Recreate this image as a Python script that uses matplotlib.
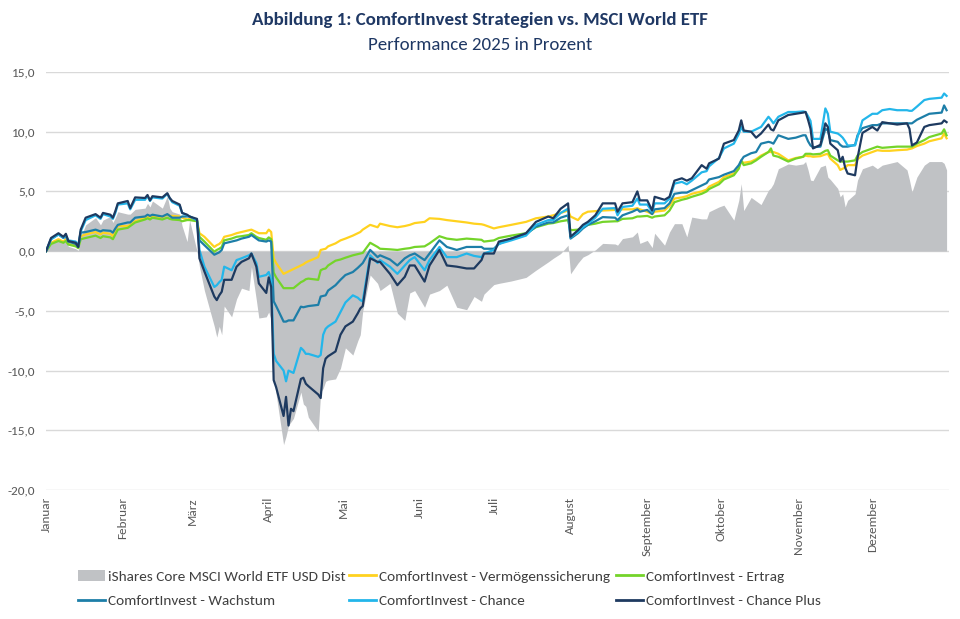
import matplotlib
matplotlib.use("Agg")
import matplotlib.pyplot as plt
from matplotlib import font_manager as fm
from matplotlib.patches import Patch
from matplotlib.lines import Line2D
import pandas as pd

# --- Daten (Wertentwicklung 2025 in %), eine Zeile pro Monat ---
dates = [
    "01-01", "01-03", "01-06", "01-08", "01-09", "01-10", "01-13", "01-14", "01-15", "01-17",
    "01-21", "01-23", "01-24", "01-27", "01-28", "01-29", "01-30",
    "02-03", "02-04", "02-06", "02-10", "02-11", "02-12", "02-13", "02-17", "02-19", "02-20",
    "02-21", "02-24", "02-25", "02-27", "02-28",
    "03-03", "03-04", "03-06", "03-10", "03-11", "03-12", "03-13", "03-14", "03-17", "03-19",
    "03-21", "03-24", "03-25", "03-27", "03-28", "03-31",
    "04-01", "04-02", "04-03", "04-04", "04-07", "04-08", "04-09", "04-10", "04-11", "04-14",
    "04-15", "04-16", "04-17", "04-21", "04-22", "04-23", "04-24", "04-25", "04-28", "04-30",
    "05-02", "05-05", "05-07", "05-08", "05-09", "05-12", "05-15", "05-16", "05-20", "05-23",
    "05-26", "05-28", "05-30",
    "06-03", "06-05", "06-09", "06-12", "06-16", "06-20", "06-23", "06-26", "06-27",
    "07-01", "07-03", "07-08", "07-14", "07-18", "07-23", "07-25", "07-28", "07-31",
    "08-01", "08-04", "08-06", "08-08", "08-11", "08-14", "08-19", "08-20", "08-22", "08-26",
    "08-28", "08-29",
    "09-01", "09-03", "09-04", "09-08", "09-10", "09-12", "09-15", "09-17", "09-19", "09-23",
    "09-25", "09-26", "09-30",
    "10-02", "10-06", "10-08", "10-09", "10-10", "10-13", "10-15", "10-17", "10-20", "10-21",
    "10-22", "10-24", "10-28", "10-31",
    "11-03", "11-04", "11-05", "11-06", "11-07", "11-10", "11-12", "11-13", "11-14", "11-17",
    "11-18", "11-19", "11-20", "11-21", "11-24", "11-25", "11-27",
    "12-01", "12-03", "12-05", "12-08", "12-11", "12-15", "12-16", "12-17", "12-19", "12-22",
    "12-24", "12-29", "12-30", "12-31",
]

etf = [
    0.0, 0.7, 1.0, 0.7, 0.8, 0.4, 0.2, 0.05, 1.2, 2.2, 2.8, 2.2, 2.6, 2.9, 2.4, 2.8, 3.3,
    3.1, 3.1, 3.5, 3.6, 4.0, 3.7, 4.2, 3.6, 4.6, 3.6, 3.3, 3.1, 2.1, 0.8, 2.6,
    0.0, -1.3, -3.3, -6.3, -7.2, -6.3, -7.0, -4.6, -5.5, -4.0, -3.1, -3.3, -1.3, -4.1, -5.6, -5.5,
    -5.1, -5.8, -10.5, -12.0, -16.2, -15.5, -14.6, -14.3, -14.0, -11.8, -12.8, -13.0, -13.9, -15.1,
    -11.8, -11.5, -10.9, -10.8, -10.7, -9.8,
    -8.1, -8.7, -7.5, -7.0, -5.0, -2.0, -2.7, -3.3, -2.7, -5.2, -5.8, -3.5, -3.3,
    -4.7, -3.6, -3.3, -2.85, -4.7, -4.9, -3.8, -4.2, -3.6,
    -2.8, -2.7, -2.5, -2.2, -1.6, -0.9, -0.6, -0.2, 0.5,
    -1.9, -1.0, -0.5, -0.3, 0.1, 0.65, 0.6, 0.5, 1.05, 1.2, 1.6, 0.65,
    0.9, 0.3, 1.5, 0.5, 1.6, 2.3, 2.3, 1.2, 2.85, 2.7, 2.7, 3.3, 3.7,
    3.85, 2.6, 4.25, 5.65, 3.4, 4.5, 4.2, 3.9, 5.1, 5.3, 5.65, 6.9, 7.3, 7.2,
    7.3, 7.5, 6.8, 5.95, 5.9, 7.05, 7.2, 6.2, 6.0, 5.25, 4.55, 4.8, 3.7, 4.25, 4.8, 5.95, 6.9,
    7.2, 6.9, 7.2, 7.35, 7.5, 6.8, 5.95, 4.95, 6.2, 7.2, 7.5, 7.5, 7.35, 6.8,
]

sicherung = [
    0.0, 0.7, 1.0, 0.8, 1.0, 0.6, 0.5, 0.3, 1.25, 1.4, 1.6, 1.4, 1.55, 1.45, 1.25, 1.7, 2.1,
    2.1, 2.2, 2.5, 2.8, 2.9, 2.8, 2.9, 2.85, 3.05, 2.95, 2.95, 2.9, 2.8, 2.65, 2.7,
    2.6, 1.5, 1.2, 0.35, 0.5, 0.6, 0.8, 1.2, 1.35, 1.5, 1.6, 1.75, 1.8, 1.6, 1.5, 1.5,
    1.8, 1.6, -0.6, -1.0, -1.9, -1.8, -1.7, -1.6, -1.5, -1.2, -1.1, -0.95, -0.85, -0.5,
    0.1, 0.15, 0.2, 0.4, 0.65, 0.9,
    1.05, 1.3, 1.5, 1.6, 1.8, 2.2, 2.0, 2.3, 2.1, 2.0, 2.1, 2.2, 2.35,
    2.45, 2.75, 2.7, 2.6, 2.5, 2.4, 2.3, 2.25, 2.2,
    1.9, 2.0, 2.2, 2.45, 2.75, 2.9, 3.0, 3.2, 3.4,
    2.9, 2.6, 3.1, 3.3, 3.35, 3.4, 3.45, 3.4, 3.5, 3.5, 3.6, 3.5,
    3.3, 3.1, 3.3, 3.4, 3.8, 4.4, 4.5, 4.6, 4.8, 5.0, 5.15, 5.4, 5.8,
    6.2, 6.5, 7.0, 7.5, 7.4, 7.5, 7.7, 8.0, 8.3, 8.3, 8.3, 8.15, 7.6, 7.8,
    7.9, 8.0, 7.95, 7.95, 7.9, 7.95, 8.1, 8.15, 7.75, 7.2, 6.8, 6.9, 7.0, 7.2, 7.2, 7.7, 8.0,
    8.3, 8.45, 8.4, 8.4, 8.45, 8.5, 8.55, 8.6, 8.8, 9.0, 9.2, 9.45, 9.85, 9.45,
]

ertrag = [
    0.0, 0.6, 0.85, 0.7, 0.85, 0.55, 0.4, 0.25, 1.0, 1.1, 1.3, 1.1, 1.25, 1.15, 1.0, 1.4, 1.8,
    1.95, 2.1, 2.4, 2.65, 2.75, 2.65, 2.8, 2.65, 2.8, 2.7, 2.65, 2.6, 2.5, 2.6, 2.6,
    2.5, 1.2, 0.8, -0.05, 0.1, 0.2, 0.35, 0.9, 1.05, 1.2, 1.25, 1.35, 1.5, 1.2, 1.1, 0.95,
    1.15, 1.0, -1.8, -2.2, -3.1, -3.1, -3.1, -3.1, -3.1, -2.6, -2.5, -2.35, -2.3, -2.4,
    -1.6, -1.5, -1.45, -1.2, -0.8, -0.7,
    -0.55, -0.35, -0.25, -0.2, -0.15, 0.7, 0.35, 0.2, 0.15, 0.1, 0.2, 0.25, 0.35,
    0.4, 0.65, 1.25, 1.05, 0.95, 1.05, 1.0, 0.95, 0.8,
    0.9, 1.1, 1.3, 1.5, 2.0, 2.3, 2.35, 2.5, 2.6,
    1.75, 1.8, 2.0, 2.2, 2.3, 2.45, 2.5, 2.5, 2.7, 2.75, 2.9, 2.9,
    2.95, 2.8, 2.9, 3.0, 3.4, 4.1, 4.3, 4.4, 4.55, 4.8, 5.0, 5.2, 5.6,
    6.0, 6.35, 6.9, 7.6, 7.2, 7.35, 7.6, 7.9, 8.3, 8.6, 8.0, 7.9, 7.5, 7.75,
    7.9, 8.15, 8.15, 8.15, 8.1, 8.15, 8.4, 8.45, 8.0, 7.6, 7.5, 7.5, 7.5, 7.5, 7.6, 8.0, 8.3,
    8.6, 8.75, 8.65, 8.7, 8.75, 8.75, 8.75, 8.75, 9.0, 9.3, 9.55, 9.85, 10.2, 9.7,
]

wachstum = [
    0.0, 1.0, 1.4, 1.1, 1.25, 0.8, 0.6, 0.35, 1.55, 1.6, 1.8, 1.65, 1.75, 1.7, 1.55, 1.9, 2.2,
    2.4, 2.4, 2.8, 2.9, 3.05, 2.95, 3.05, 2.9, 3.1, 2.95, 2.8, 2.8, 2.9, 2.9, 2.9,
    2.6, 0.9, 0.5, -0.3, -0.2, -0.1, 0.1, 0.65, 0.8, 0.9, 1.05, 1.2, 1.35, 1.05, 0.9, 0.8,
    0.9, 0.8, -4.2, -4.6, -5.9, -5.9, -5.8, -5.8, -5.8, -4.65, -4.7, -4.65, -4.6, -4.5,
    -3.8, -3.75, -3.7, -3.3, -2.85, -2.4,
    -2.0, -1.75, -1.4, -1.2, -1.0, 0.1, -0.5, -0.35, -0.7, -1.2, -0.6, -0.35, -0.2,
    -0.75, -0.2, 0.9, 0.35, 0.1, 0.35, 0.35, 0.35, 0.2,
    0.2, 0.6, 1.05, 1.4, 2.05, 2.4, 2.4, 2.8, 3.0,
    1.05, 1.5, 1.9, 2.2, 2.5, 2.85, 2.8, 2.6, 3.0, 3.3, 3.5, 3.3,
    3.45, 3.1, 3.5, 3.6, 4.0, 4.8, 4.9, 4.9, 5.1, 5.5, 5.7, 6.0, 6.2,
    6.4, 6.7, 7.2, 7.6, 7.9, 8.2, 8.3, 9.0, 9.15, 9.1, 9.0, 9.7, 9.4, 9.5,
    9.7, 9.7, 9.2, 8.85, 8.7, 8.75, 10.25, 10.1, 9.3, 9.15, 8.9, 8.75, 8.75, 8.75, 8.9, 9.7, 10.3,
    10.55, 10.55, 10.7, 10.7, 10.7, 10.7, 10.7, 10.7, 11.0, 11.3, 11.5, 11.6, 12.2, 11.8,
]

chance = [
    0.0, 1.0, 1.4, 1.15, 1.3, 0.9, 0.8, 0.45, 1.65, 2.6, 3.0, 2.7, 3.1, 2.9, 2.7, 3.2, 3.9,
    4.0, 3.5, 4.3, 4.3, 4.6, 4.2, 4.5, 4.4, 4.8, 4.4, 4.1, 3.8, 3.2, 3.0, 2.9,
    2.6, 0.1, -1.3, -3.0, -2.85, -2.6, -2.4, -1.3, -1.6, -0.75, -0.6, -0.35, -0.2, -1.0, -2.15, -2.0,
    -1.75, -2.4, -8.6, -9.2, -10.0, -10.9, -10.0, -10.1, -10.2, -8.1, -8.3, -8.6, -8.6, -8.85,
    -8.7, -7.0, -6.5, -6.3, -5.9, -5.1,
    -4.3, -3.7, -3.9, -4.1, -4.2, -0.35, -1.0, -0.75, -1.3, -1.9, -1.2, -0.75, -0.5,
    -1.6, -0.75, 0.35, -0.5, -0.5, -0.2, -0.4, -0.5, -0.2,
    0.1, 0.6, 0.9, 1.3, 2.2, 2.6, 2.6, 3.2, 3.55,
    1.15, 1.6, 2.0, 2.3, 2.8, 3.55, 3.6, 3.0, 3.7, 3.8, 4.4, 3.9,
    3.9, 3.3, 4.0, 4.0, 4.4, 5.65, 5.8, 5.6, 5.9, 6.6, 6.7, 7.1, 7.8,
    8.6, 9.0, 9.8, 10.4, 10.0, 10.0, 10.2, 10.4, 11.25, 11.0, 10.7, 11.25, 11.65, 11.65,
    11.7, 11.65, 11.3, 10.9, 9.4, 9.4, 11.95, 11.5, 10.0, 9.85, 9.7, 9.5, 9.2, 8.85, 8.85, 9.55, 10.95,
    11.5, 11.5, 11.8, 11.9, 11.8, 11.8, 11.75, 11.75, 12.1, 12.65, 12.75, 12.85, 13.2, 13.0,
]

chance_plus = [
    0.0, 1.1, 1.5, 1.2, 1.45, 0.85, 0.7, 0.35, 1.8, 2.8, 3.1, 2.8, 3.2, 3.05, 2.8, 3.35, 4.0,
    4.2, 3.6, 4.5, 4.45, 4.7, 4.25, 4.6, 4.5, 4.85, 4.45, 4.2, 3.9, 3.2, 3.05, 2.9,
    2.7, -0.6, -1.7, -3.8, -4.1, -3.7, -3.4, -2.4, -2.4, -1.3, -0.9, -0.6, -0.2, -1.3, -2.7, -3.5,
    -2.2, -3.0, -10.8, -11.4, -13.8, -12.2, -14.6, -13.2, -13.4, -10.7, -10.6, -11.1, -11.3, -12.0,
    -12.3, -9.8, -9.0, -8.8, -8.4, -7.0,
    -6.3, -5.9, -5.2, -4.8, -4.6, -0.6, -0.9, -0.9, -1.9, -2.85, -2.15, -1.2, -1.2,
    -2.55, -1.2, 0.1, -1.2, -1.3, -1.45, -1.45, -0.75, -0.2,
    -0.2, 0.8, 1.05, 1.5, 2.45, 2.9, 2.75, 3.55, 4.0,
    1.2, 1.75, 2.2, 2.45, 3.0, 4.0, 4.0, 3.3, 4.0, 4.1, 5.0, 4.25,
    4.25, 3.4, 4.55, 4.3, 4.55, 5.9, 6.1, 5.9, 6.1, 7.2, 6.9, 7.35, 7.75,
    9.0, 9.3, 10.1, 10.95, 10.1, 10.0, 9.5, 9.85, 10.6, 10.2, 10.1, 10.95, 11.4, 11.5,
    11.6, 11.65, 11.0, 10.25, 8.6, 8.9, 10.7, 10.4, 9.0, 8.45, 7.5, 7.9, 7.0, 6.5, 6.35, 7.8, 9.9,
    10.4, 10.1, 10.8, 10.7, 10.6, 10.7, 10.25, 8.85, 9.1, 10.4, 10.55, 10.7, 10.95, 10.8,
]

month_labels = ["Januar", "Februar", "März", "April", "Mai", "Juni", "Juli",
                "August", "September", "Oktober", "November", "Dezember"]

labels = {
    "etf": "iShares Core MSCI World ETF USD Dist",
    "sicherung": "ComfortInvest - Vermögenssicherung",
    "ertrag": "ComfortInvest - Ertrag",
    "wachstum": "ComfortInvest - Wachstum",
    "chance": "ComfortInvest - Chance",
    "chance_plus": "ComfortInvest - Chance Plus",
}

colors = {
    "etf": "#C0C2C5",
    "sicherung": "#FFD21F",
    "ertrag": "#74D42A",
    "wachstum": "#1D7EA8",
    "chance": "#23B6EA",
    "chance_plus": "#1E3A60",
}

TITLE_COLOR = "#1F3864"
TEXT_GREY = "#595959"
LEGEND_GREY = "#404040"


def _set_font() -> None:
    available = {f.name for f in fm.fontManager.ttflist}
    for name in ["Carlito", "Lato", "Open Sans", "DejaVu Sans"]:
        if name in available:
            plt.rcParams["font.family"] = [name, "DejaVu Sans"]
            break


_set_font()

x = pd.to_datetime(["2025-" + d for d in dates])

fig = plt.figure(figsize=(9.6, 6.19), dpi=100)
ax = fig.add_axes([0.048, 0.2084, 0.9406, 0.6753])

ax.fill_between(x, 0, etf, color=colors["etf"], linewidth=0, zorder=2)
for key, series in [("sicherung", sicherung), ("ertrag", ertrag), ("wachstum", wachstum),
                    ("chance", chance), ("chance_plus", chance_plus)]:
    ax.plot(x, series, color=colors[key], linewidth=1.6, zorder=3)

ax.set_ylim(-20, 15)
ax.set_yticks(range(-20, 16, 5))
ax.yaxis.set_major_formatter(plt.FuncFormatter(lambda v, _: f"{v:.1f}".replace(".", ",")))
ax.set_xlim(pd.Timestamp("2025-01-01"), pd.Timestamp("2026-01-01"))
month_starts = pd.date_range("2025-01-01", periods=12, freq="MS")
ax.set_xticks(month_starts)
ax.set_xticklabels(month_labels, rotation=90, fontsize=9.5, color=TEXT_GREY)

ax.grid(axis="y", color="#D9D9D9", linewidth=1.0, zorder=0)
ax.set_axisbelow(True)
for spine in ax.spines.values():
    spine.set_visible(False)
ax.tick_params(axis="both", length=0)
ax.tick_params(axis="y", labelsize=9.5, labelcolor=TEXT_GREY, pad=8)
ax.tick_params(axis="x", pad=5)

fig.text(0.5, 0.967, "Abbildung 1: ComfortInvest Strategien vs. MSCI World ETF",
         ha="center", va="center", fontsize=13.6, fontweight="bold", color=TITLE_COLOR)
fig.text(0.5, 0.927, "Performance 2025 in Prozent",
         ha="center", va="center", fontsize=13.6, color=TITLE_COLOR)

# Legende: drei Spalten mit festen Startpositionen wie im Original
legend_columns = [
    (78, [Patch(facecolor=colors["etf"], edgecolor="none", label=labels["etf"]),
          Line2D([], [], color=colors["wachstum"], linewidth=2, label=labels["wachstum"])]),
    (349, [Line2D([], [], color=colors["sicherung"], linewidth=2, label=labels["sicherung"]),
           Line2D([], [], color=colors["chance"], linewidth=2, label=labels["chance"])]),
    (616, [Line2D([], [], color=colors["ertrag"], linewidth=2, label=labels["ertrag"]),
           Line2D([], [], color=colors["chance_plus"], linewidth=2, label=labels["chance_plus"])]),
]
for x_px, handles in legend_columns:
    fig.legend(handles=handles, loc="center left", bbox_to_anchor=(x_px / 960, 1 - 588.5 / 619),
               frameon=False, fontsize=11, handlelength=1.75, handletextpad=0.2,
               labelspacing=0.75, borderaxespad=0, borderpad=0, labelcolor=LEGEND_GREY)

fig.savefig("out.png", dpi=100)
